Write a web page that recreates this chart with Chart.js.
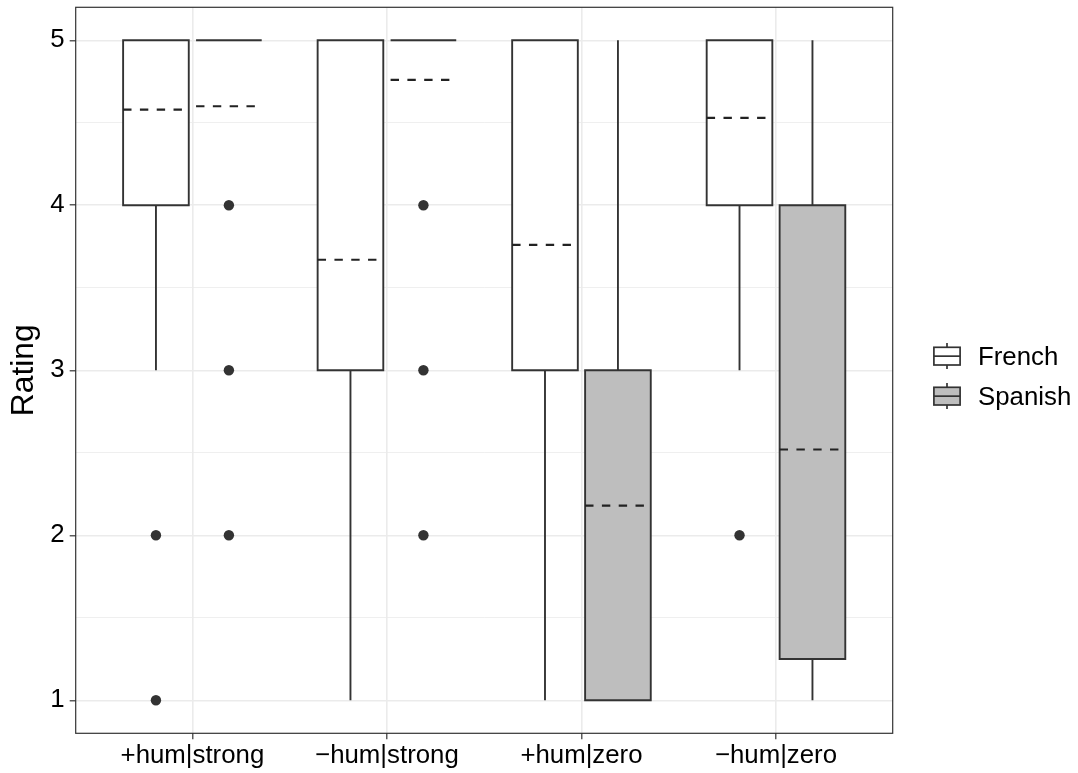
<!DOCTYPE html>
<html>
<head>
<meta charset="utf-8">
<script src="https://cdn.jsdelivr.net/npm/chart.js@4.4.1/dist/chart.umd.min.js"></script>
<style>
  html, body { margin: 0; padding: 0; background: #ffffff; }
  #wrap { position: relative; width: 1078px; height: 773px; }
  #c { position: absolute; left: 0; top: 0; }
  .key { position: absolute; left: 933px; width: 160px; height: 26px; font-family: "Liberation Sans", Arial, sans-serif; font-size: 25.8px; color: #000; }
  .key svg { position: absolute; left: 0; top: 0; }
  .key span { position: absolute; left: 45px; top: 0; line-height: 26px; white-space: nowrap; }
</style>
</head>
<body>
<div id="wrap">
  <canvas id="c" width="1078" height="773"></canvas>
  <div id="legend"></div>
</div>
<script>
// Ratings per condition, summarised as box-plot statistics for each language group
const categories = ['+hum|strong', '\u2212hum|strong', '+hum|zero', '\u2212hum|zero'];
const groups = ['French', 'Spanish'];
const groupFills = ['#FFFFFF', '#BEBEBE'];

const frenchLowerWhisker = [3, 1, 1, 3];
const frenchQ1 = [4, 3, 3, 4];
const frenchQ3 = [5, 5, 5, 5];
const frenchUpperWhisker = [5, 5, 5, 5];
const frenchMean = [4.58, 3.67, 3.76, 4.53];
const frenchOutliers = [[2, 1], [], [], [2]];

const spanishLowerWhisker = [5, 5, 1, 1];
const spanishQ1 = [5, 5, 1, 1.25];
const spanishQ3 = [5, 5, 3, 4];
const spanishUpperWhisker = [5, 5, 5, 5];
const spanishMean = [4.60, 4.76, 2.18, 2.52];
const spanishOutliers = [[4, 3, 2], [4, 3, 2], [], []];

const yTicks = [1, 2, 3, 4, 5];

const FONT = '"Liberation Sans", Arial, sans-serif';
const INK = '#333333';
const LINE_W = 1.9;

// dodge layout: two boxes per category
const DODGE = 0.75;
const groupOffset = g => (g - (groups.length - 1) / 2) * DODGE / groups.length;
const BAR_PCT = 0.9;
const halfBox = DODGE / groups.length * BAR_PCT / 2;

const stats = [
  { lo: frenchLowerWhisker, q1: frenchQ1, q3: frenchQ3, hi: frenchUpperWhisker, mean: frenchMean, out: frenchOutliers },
  { lo: spanishLowerWhisker, q1: spanishQ1, q3: spanishQ3, hi: spanishUpperWhisker, mean: spanishMean, out: spanishOutliers }
];

// y ticks every half unit: integers labelled, halves are minor grid lines
const yGrid = [];
yTicks.forEach((v, i) => { yGrid.push(v); if (i < yTicks.length - 1) yGrid.push((v + yTicks[i + 1]) / 2); });
const isMajor = v => yTicks.includes(v);

function boxFill(g) {
  const s = stats[g];
  return categories.map((c, i) => ({ x: i + 1, y: [s.q1[i], s.q3[i]] }));
}

function boxOutline(g) {
  const s = stats[g];
  const pts = [];
  categories.forEach((c, i) => {
    const xc = i + 1 + groupOffset(g), x0 = xc - halfBox, x1 = xc + halfBox;
    const a = s.q1[i], b = s.q3[i];
    pts.push({x: xc, y: a}, {x: x1, y: a}, {x: x1, y: b}, {x: x0, y: b}, {x: x0, y: a}, {x: xc, y: a}, {x: xc, y: null});
    if (s.lo[i] < a) pts.push({x: xc, y: a}, {x: xc, y: s.lo[i]}, {x: xc, y: null});
    if (s.hi[i] > b) pts.push({x: xc, y: b}, {x: xc, y: s.hi[i]}, {x: xc, y: null});
  });
  return pts;
}

function meanLines(g) {
  const s = stats[g];
  const pts = [];
  categories.forEach((c, i) => {
    const xc = i + 1 + groupOffset(g);
    pts.push({x: xc - halfBox, y: s.mean[i]}, {x: xc + halfBox, y: s.mean[i]}, {x: xc, y: null});
  });
  return pts;
}

function outlierPoints(g) {
  const s = stats[g];
  const pts = [];
  categories.forEach((c, i) => {
    s.out[i].forEach(v => pts.push({x: i + 1 + groupOffset(g), y: v}));
  });
  return pts;
}

const datasets = [];
groups.forEach((name, g) => {
  datasets.push({
    type: 'bar', label: name, data: boxFill(g), backgroundColor: groupFills[g],
    borderWidth: 0, categoryPercentage: DODGE, barPercentage: BAR_PCT, order: 4
  });
});
groups.forEach((name, g) => {
  datasets.push({
    type: 'line', label: name + ' box', data: boxOutline(g), borderColor: INK, borderWidth: LINE_W,
    pointRadius: 0, spanGaps: false, fill: false, tension: 0,
    borderJoinStyle: 'miter', borderCapStyle: 'butt', order: 3
  });
  datasets.push({
    type: 'line', label: name + ' mean', data: meanLines(g), borderColor: '#222222', borderWidth: 2.1,
    borderDash: [8.4, 8.4], pointRadius: 0, spanGaps: false, fill: false, tension: 0,
    borderCapStyle: 'butt', order: 2
  });
  datasets.push({
    type: 'scatter', label: name + ' outliers', data: outlierPoints(g), pointRadius: 5.2,
    pointBackgroundColor: INK, pointBorderWidth: 0, showLine: false, order: 1
  });
});

// panel frame around the plotting region
const panelFrame = {
  id: 'panelFrame',
  afterDatasetsDraw(chart) {
    const a = chart.chartArea, ctx = chart.ctx;
    ctx.save();
    ctx.strokeStyle = INK;
    ctx.lineWidth = 1.2;
    ctx.strokeRect(a.left, a.top, a.right - a.left, a.bottom - a.top);
    ctx.restore();
  }
};

new Chart(document.getElementById('c'), {
  type: 'bar',
  data: { datasets },
  plugins: [panelFrame],
  options: {
    responsive: false,
    animation: false,
    events: [],
    layout: { padding: { top: 7.3, right: 185.3, bottom: 0, left: 0 } },
    plugins: { legend: { display: false }, tooltip: { enabled: false } },
    scales: {
      x: {
        type: 'linear', min: 0.4, max: 4.6, offset: false,
        afterBuildTicks: s => { s.ticks = categories.map((c, i) => ({ value: i + 1 })); },
        afterFit: s => { s.height = 39.7; s.paddingLeft = 0; s.paddingRight = 0; },
        ticks: {
          autoSkip: false, maxRotation: 0, minRotation: 0, padding: 1.4, color: '#000',
          font: { family: FONT, size: 25.8 },
          callback: v => categories[Math.round(v) - 1]
        },
        grid: { offset: false, color: '#EBEBEB', lineWidth: 1.6, tickLength: 6, tickColor: INK, tickWidth: 1.2 },
        border: { display: false }
      },
      y: {
        type: 'linear', min: 0.8, max: 5.2, beginAtZero: false,
        afterBuildTicks: s => { s.ticks = yGrid.map(v => ({ value: v })); },
        afterFit: s => { s.width = 75.7; s.paddingTop = 0; s.paddingBottom = 0; },
        ticks: {
          autoSkip: false, padding: 5, color: '#000',
          font: { family: FONT, size: 25.8 },
          callback: v => isMajor(v) ? String(v) : ''
        },
        grid: {
          color: '#EBEBEB',
          lineWidth: c => isMajor(c.tick.value) ? 1.6 : 0.8,
          tickLength: 6,
          tickColor: c => isMajor(c.tick.value) ? INK : 'rgba(0,0,0,0)',
          tickWidth: 1.2
        },
        border: { display: false },
        title: { display: true, text: 'Rating', color: '#000', font: { family: FONT, size: 31.8 }, padding: { top: 5, bottom: 0 } }
      }
    }
  }
});

// legend keys: small box-plot glyph per language group
const legend = document.getElementById('legend');
groups.forEach((name, g) => {
  const row = document.createElement('div');
  row.className = 'key';
  row.style.top = (343 + g * 40) + 'px';
  row.innerHTML =
    '<svg width="28" height="26" viewBox="0 0 28 26">' +
    '<line x1="14" y1="0" x2="14" y2="4.3" stroke="' + INK + '" stroke-width="1.7"/>' +
    '<rect x="0.9" y="4.3" width="26.2" height="17.7" fill="' + groupFills[g] + '" stroke="' + INK + '" stroke-width="1.7"/>' +
    '<line x1="0.9" y1="13.15" x2="27.1" y2="13.15" stroke="' + INK + '" stroke-width="1.7"/>' +
    '<line x1="14" y1="22" x2="14" y2="26" stroke="' + INK + '" stroke-width="1.7"/>' +
    '</svg><span>' + name + '</span>';
  legend.appendChild(row);
});
</script>
</body>
</html>
